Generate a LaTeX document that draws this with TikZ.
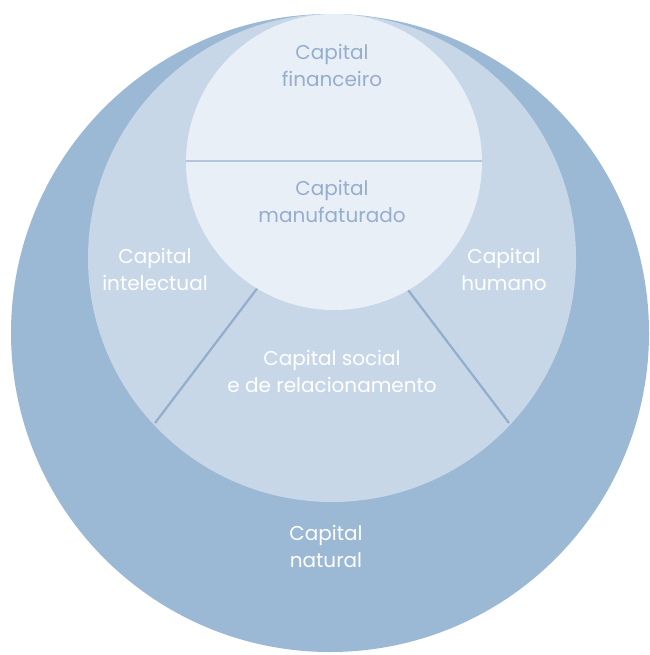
\documentclass[tikz,border=0pt]{standalone}
\usepackage{fontspec}
\setmainfont{Poppins}
\definecolor{outerblue}{RGB}{155,184,212}
\definecolor{midblue}{RGB}{199,215,232}
\definecolor{innerblue}{RGB}{232,239,247}
\definecolor{sepline}{RGB}{146,174,204}
\definecolor{innerline}{RGB}{178,197,218}
\definecolor{innertext}{RGB}{150,174,205}
\tikzset{
  lbl/.style={align=center, font=\fontsize{20}{27}\selectfont, inner sep=0pt, anchor=base},
  whitelbl/.style={lbl, text=white},
  innerlbl/.style={lbl, text=innertext},
  sep/.style={draw=sepline, line width=2.2pt},
}
\begin{document}
\begin{tikzpicture}[x=1pt,y=-1pt]
\useasboundingbox (0,0) rectangle (649,655);
% circles
\fill[outerblue] (330,333) circle (319);
\fill[midblue] (332,258) circle (244);
% separating lines
\coordinate (l1) at (262,282);
\coordinate (l2) at (155,423);
\coordinate (r1) at (402,282);
\coordinate (r2) at (509,423);
\draw[sep] (l1) -- (l2);
\draw[sep] (r1) -- (r2);
\fill[innerblue] (334,162) circle (148);
\coordinate (h1) at (186,161);
\coordinate (h2) at (482,161);
\draw[innerline, line width=2pt] (h1) -- (h2);
% labels
\node[innerlbl] (fin) at (332,87) {Capital\\financeiro};
\node[innerlbl] (man) at (332,222) {Capital\\manufaturado};
\node[whitelbl] (int) at (155,290) {Capital\\intelectual};
\node[whitelbl] (hum) at (504,290) {Capital\\humano};
\node[whitelbl] (soc) at (332,392) {Capital social\\e de relacionamento};
\node[whitelbl] (nat) at (326,567) {Capital\\natural};
\end{tikzpicture}
\end{document}
